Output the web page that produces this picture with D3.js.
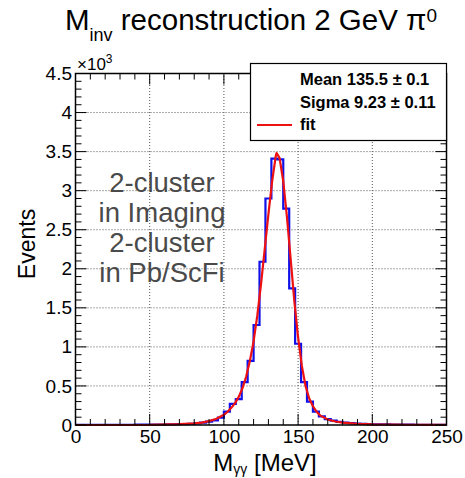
<!DOCTYPE html>
<html><head><meta charset="utf-8">
<script src="https://cdn.jsdelivr.net/npm/d3@7"></script>
<style>body{margin:0;background:#fff}svg{display:block;font-family:"Liberation Sans",Arial,sans-serif}</style>
</head><body><svg id="c" width="465" height="478"></svg>
<script>
// ---- data (values in units of 10^3 events) ----
const binWidth = 4; // MeV
const counts = [
  0.002,0.002,0.002,0.002,0.002,0.003,0.002,0.003,0.003,0.003,
  0.004,0.004,0.005,0.005,0.006,0.007,0.008,0.010,0.012,0.016,
  0.022,0.030,0.042,0.060,0.095,0.17,0.27,0.33,0.55,0.82,
  1.28,2.09,2.90,3.41,3.40,2.77,1.75,1.04,0.55,0.30,
  0.17,0.11,0.075,0.055,0.040,0.030,0.024,0.018,0.014,0.011,
  0.009,0.008,0.007,0.006,0.005,0.004,0.004,0.003,0.003,0.003,
  0.002,0.002
];
const fitX = [0,50,70,80,85,90,95,100,102.5,105,107.5,110,112.5,115,117.5,120,122.5,125,127.5,130,132.5,135,135.5,137.5,140,142.5,145,147.5,150,152.5,155,157.5,160,162.5,165,170,175,180,190,200,225,250];
const fitY = [0,0.001,0.01,0.02,0.03,0.05,0.08,0.13,0.17,0.22,0.28,0.36,0.47,0.62,0.82,1.07,1.40,1.80,2.25,2.70,3.12,3.45,3.48,3.42,3.12,2.66,2.12,1.58,1.12,0.76,0.50,0.34,0.24,0.17,0.12,0.07,0.045,0.03,0.015,0.008,0.003,0.001];
const xTicks = [0,50,100,150,200,250];
const yTicks = [0,0.5,1,1.5,2,2.5,3,3.5,4,4.5];
const yTickLabels = ["0","0.5","1","1.5","2","2.5","3","3.5","4","4.5"];
const legendLines = ["Mean 135.5 \u00b1 0.1","Sigma 9.23 \u00b1 0.11","fit"];
const annotation = ["2-cluster","in Imaging","2-cluster","in Pb/ScFi"];

// ---- layout ----
const svg = d3.select("#c");
const x = d3.scaleLinear().domain([0,250]).range([75.5,446.5]);
const y = d3.scaleLinear().domain([0,4.5]).range([425,73.5]);
const L = x.range()[0], R = x.range()[1], B = y.range()[0], T = y.range()[1];

// grid
const g = svg.append("g");
g.selectAll(".gx").data(xTicks.slice(1,-1)).enter().append("line")
  .attr("x1",d=>x(d)).attr("x2",d=>x(d)).attr("y1",B).attr("y2",T)
  .attr("stroke","#555").attr("stroke-width",1).attr("stroke-dasharray","1,2");
g.selectAll(".gy").data(yTicks.slice(1)).enter().append("line")
  .attr("y1",d=>y(d)).attr("y2",d=>y(d)).attr("x1",L).attr("x2",R)
  .attr("stroke","#555").attr("stroke-width",1).attr("stroke-dasharray","1,2");

// annotation
svg.append("g").selectAll("text").data(annotation).enter().append("text")
  .attr("x",162).attr("y",(d,i)=>192+i*30).attr("text-anchor","middle")
  .attr("font-size",27.5).attr("fill","#4a4a4a").text(d=>d);

// histogram (step outline)
const pts = counts.map((c,i)=>[i*binWidth,c]);
pts.push([250,counts[counts.length-1]]);
svg.append("path").attr("d",d3.line().x(d=>x(d[0])).y(d=>y(d[1])).curve(d3.curveStepAfter)(pts))
  .attr("fill","none").attr("stroke","#1010e8").attr("stroke-width",2.2);

// fit
svg.append("path").attr("d",d3.line().x(d=>x(d[0])).y(d=>y(d[1]))(fitX.map((v,i)=>[v,fitY[i]])))
  .attr("fill","none").attr("stroke","#ee1111").attr("stroke-width",2.2).attr("stroke-linejoin","round");

// axes with inside ticks
const xMinor = d3.range(0,251,10), yMinor = d3.range(0,45.1,1).map(v=>v/10);
const tk = svg.append("g").attr("stroke","#000").attr("stroke-width",1);
xMinor.forEach(v=>{
  const len = v%50===0?11:6;
  tk.append("line").attr("x1",x(v)).attr("x2",x(v)).attr("y1",B).attr("y2",B-len);
  tk.append("line").attr("x1",x(v)).attr("x2",x(v)).attr("y1",T).attr("y2",T+len);
});
yMinor.forEach(v=>{
  const len = Math.abs(v*2-Math.round(v*2))<1e-6?11:6;
  tk.append("line").attr("y1",y(v)).attr("y2",y(v)).attr("x1",L).attr("x2",L+len);
  tk.append("line").attr("y1",y(v)).attr("y2",y(v)).attr("x1",R).attr("x2",R-len);
});
svg.append("rect").attr("x",L).attr("y",T).attr("width",R-L).attr("height",B-T)
  .attr("fill","none").attr("stroke","#000").attr("stroke-width",1.5);

// axis labels via d3 axes
const xa = svg.append("g").attr("transform",`translate(0,${B})`)
  .call(d3.axisBottom(x).tickValues(xTicks).tickSize(0).tickPadding(5).tickFormat(d3.format("d")));
xa.select(".domain").remove();
xa.selectAll("text").attr("font-size",19).attr("font-family","Liberation Sans").attr("fill","#000");
const ya = svg.append("g").attr("transform",`translate(${L},0)`)
  .call(d3.axisLeft(y).tickValues(yTicks).tickSize(0).tickPadding(3.5).tickFormat((d,i)=>yTickLabels[i]));
ya.select(".domain").remove();
ya.selectAll("text").attr("font-size",19).attr("font-family","Liberation Sans").attr("fill","#000");

// exponent
const ex = svg.append("text").attr("x",77).attr("y",70).attr("font-size",17);
ex.append("tspan").text("\u00d710");
ex.append("tspan").attr("dy",-7).attr("font-size",12).text("3");

// title
const t = svg.append("text").attr("x",251).attr("y",30).attr("text-anchor","middle").attr("font-size",29.5);
t.append("tspan").text("M");
t.append("tspan").attr("dy",11).attr("font-size",18).text("inv");
t.append("tspan").attr("dy",-11).text(" reconstruction 2 GeV \u03c0");
t.append("tspan").attr("dy",-8).attr("font-size",19).text("0");

// axis titles
const xt = svg.append("text").attr("x",265).attr("y",471).attr("text-anchor","middle").attr("font-size",24);
xt.append("tspan").text("M");
xt.append("tspan").attr("dy",3).attr("font-size",14).text("\u03b3\u03b3");
xt.append("tspan").attr("dy",-3).text(" [MeV]");
svg.append("text").attr("transform","translate(35,244) rotate(-90)").attr("text-anchor","middle")
  .attr("font-size",23).text("Events");

// legend
const lg = svg.append("g");
lg.append("rect").attr("x",250.5).attr("y",63.5).attr("width",196).attr("height",77)
  .attr("fill","#fff").attr("stroke","#000").attr("stroke-width",1.2);
lg.selectAll("text").data(legendLines).enter().append("text")
  .attr("x",300).attr("y",(d,i)=>85+i*22.5).attr("font-size",16.5).attr("font-weight","bold").text(d=>d);
lg.append("line").attr("x1",257).attr("x2",292).attr("y1",125).attr("y2",125)
  .attr("stroke","#ee1111").attr("stroke-width",2);
</script></body></html>
